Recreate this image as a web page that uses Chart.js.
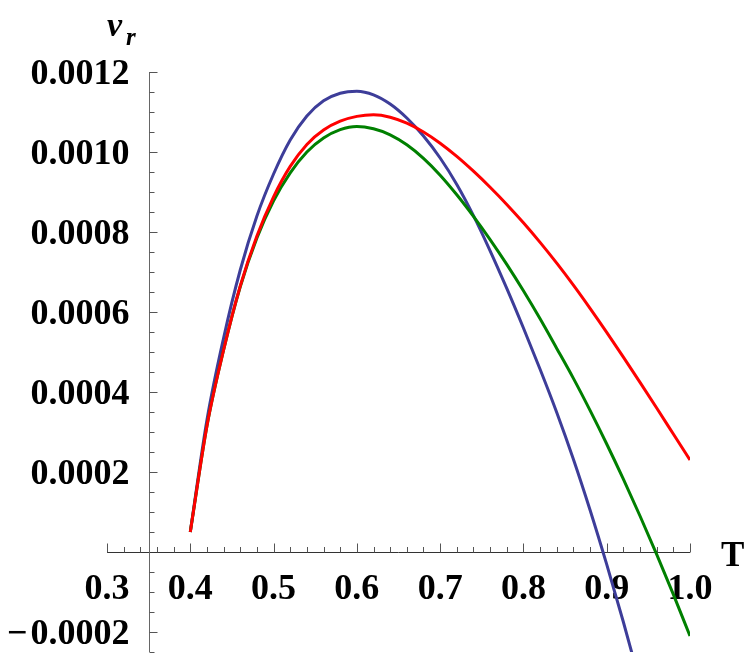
<!DOCTYPE html>
<html><head><meta charset="utf-8">
<script src="https://cdn.jsdelivr.net/npm/chart.js@4.4.1/dist/chart.umd.min.js"></script>
<style>html,body{margin:0;padding:0;background:#fff;}canvas{display:block;}</style>
</head><body>
<canvas id="c" width="747" height="660"></canvas>
<script>
// ---- data ----
const T = [0.40,0.42,0.44,0.46,0.48,0.50,0.52,0.54,0.56,0.58,0.60,0.62,0.64,0.66,0.68,0.70,
           0.72,0.74,0.76,0.78,0.80,0.82,0.84,0.86,0.88,0.90,0.92,0.94,0.96,0.98,1.00];
const vrBlue = [0.000050,0.000330,0.000535,0.000705,0.000840,0.000945,0.001030,0.001090,0.001128,0.001147,
                0.001152,0.001143,0.001120,0.001085,0.001040,0.000985,0.000919,0.000841,0.000753,0.000659,
                0.000560,0.000457,0.000349,0.000232,0.000105,-0.000031,-0.000175,-0.000327,null,null,null];
const vrGreen = [0.000050,0.000315,0.000505,0.000663,0.000785,0.000878,0.000948,0.001000,0.001035,0.001056,
                 0.001064,0.001058,0.001043,0.001018,0.000984,0.000942,0.000893,0.000839,0.000781,0.000719,
                 0.000653,0.000583,0.000509,0.000434,0.000354,0.000270,0.000182,0.000090,-0.000006,-0.000106,-0.000210];
const vrRed = [0.000050,0.000315,0.000505,0.000665,0.000790,0.000888,0.000964,0.001019,0.001055,0.001077,
               0.001089,0.001093,0.001087,0.001072,0.001050,0.001022,0.000989,0.000952,0.000912,0.000869,
               0.000823,0.000774,0.000722,0.000667,0.000609,0.000549,0.000487,0.000424,0.000360,0.000295,0.000230];
const xTickValues = [0.3,0.4,0.5,0.6,0.7,0.8,0.9,1.0];
const xTickLabels = ['0.3','0.4','0.5','0.6','0.7','0.8','0.9','1.0'];
const yTickValues = [-0.0002,0.0002,0.0004,0.0006,0.0008,0.0010,0.0012];
const yTickLabels = ['\u2212\u200A0.0002','0.0002','0.0004','0.0006','0.0008','0.0010','0.0012'];
const xAxisLabel = 'T';
const yAxisLabelMain = 'v';
const yAxisLabelSub = 'r';

// ---- layout / style ----
const X_MIN = 0.3, X_MAX = 1.0, Y_MIN = -0.00025, Y_MAX = 0.0012;
const Y_AXIS_AT = 0.35;
const X_MINOR = 0.02, Y_MINOR = 0.00005;
const FONT = '"Liberation Serif","Times New Roman",serif';

const pts = arr => T.map((t, i) => ({x: t, y: arr[i]}));

const mmaAxes = {
  id: 'mmaAxes',
  beforeDatasetsDraw(chart) {
    const {ctx, scales: {x, y}} = chart;
    const ax = Math.round(x.getPixelForValue(Y_AXIS_AT)) + 0.5;
    const ay = Math.round(y.getPixelForValue(0)) + 0.5;
    ctx.save();
    ctx.lineWidth = 1;
    ctx.strokeStyle = '#333';
    ctx.beginPath();
    ctx.moveTo(x.getPixelForValue(X_MIN), ay); ctx.lineTo(x.getPixelForValue(X_MAX), ay);
    ctx.stroke();
    ctx.strokeStyle = '#666';
    ctx.beginPath();
    ctx.moveTo(ax, y.getPixelForValue(Y_MAX)); ctx.lineTo(ax, y.getPixelForValue(Y_MIN));
    ctx.stroke();
    ctx.strokeStyle = '#555';
    const nx = Math.round((X_MAX - X_MIN) / X_MINOR);
    for (let i = 0; i <= nx; i++) {
      const v = X_MIN + i * X_MINOR;
      const major = xTickValues.some(t => Math.abs(t - v) < 1e-6);
      const px = Math.round(x.getPixelForValue(v)) + 0.5;
      ctx.beginPath(); ctx.moveTo(px, ay); ctx.lineTo(px, ay - (major ? 9 : 5.5)); ctx.stroke();
    }
    const ny = Math.round((Y_MAX - Y_MIN) / Y_MINOR);
    for (let i = 0; i <= ny; i++) {
      const v = Y_MIN + i * Y_MINOR;
      if (Math.abs(v) < 1e-9) continue;
      const major = Math.abs(Math.round(v / 0.0002) * 0.0002 - v) < 1e-9;
      const py = Math.round(y.getPixelForValue(v)) + 0.5;
      ctx.beginPath(); ctx.moveTo(ax, py); ctx.lineTo(ax + (major ? 8 : 5), py); ctx.stroke();
    }
    ctx.fillStyle = '#000';
    ctx.font = 'bold 36px ' + FONT;
    ctx.textBaseline = 'alphabetic';
    ctx.textAlign = 'center';
    xTickValues.forEach((v, i) => {
      ctx.fillText(xTickLabels[i], x.getPixelForValue(v), ay + 46);
    });
    ctx.textAlign = 'right';
    yTickValues.forEach((v, i) => {
      ctx.fillText(yTickLabels[i], ax - 20, y.getPixelForValue(v) + 12);
    });
    ctx.textAlign = 'left';
    ctx.font = 'bold 35px ' + FONT;
    ctx.fillText(xAxisLabel, 721, ay + 13);
    ctx.font = 'italic bold 34px ' + FONT;
    ctx.fillText(yAxisLabelMain, 107, 36);
    ctx.font = 'italic bold 25px ' + FONT;
    ctx.fillText(yAxisLabelSub, 126, 45);
    ctx.restore();
  }
};

const common = {pointRadius: 0, borderWidth: 3, fill: false, cubicInterpolationMode: 'monotone', spanGaps: false};

new Chart(document.getElementById('c'), {
  type: 'line',
  data: {
    datasets: [
      Object.assign({label: 'red', data: pts(vrRed), borderColor: '#ff0000'}, common),
      Object.assign({label: 'green', data: pts(vrGreen), borderColor: '#008000'}, common),
      Object.assign({label: 'blue', data: pts(vrBlue), borderColor: '#3d3d99'}, common)
    ]
  },
  options: {
    responsive: false,
    animation: false,
    devicePixelRatio: 1,
    layout: {padding: {left: 107, right: 57, top: 72, bottom: 8}},
    plugins: {legend: {display: false}, tooltip: {enabled: false}},
    scales: {
      x: {type: 'linear', min: X_MIN, max: X_MAX, display: false},
      y: {type: 'linear', min: Y_MIN, max: Y_MAX, display: false}
    }
  },
  plugins: [mmaAxes]
});
</script>
</body></html>
